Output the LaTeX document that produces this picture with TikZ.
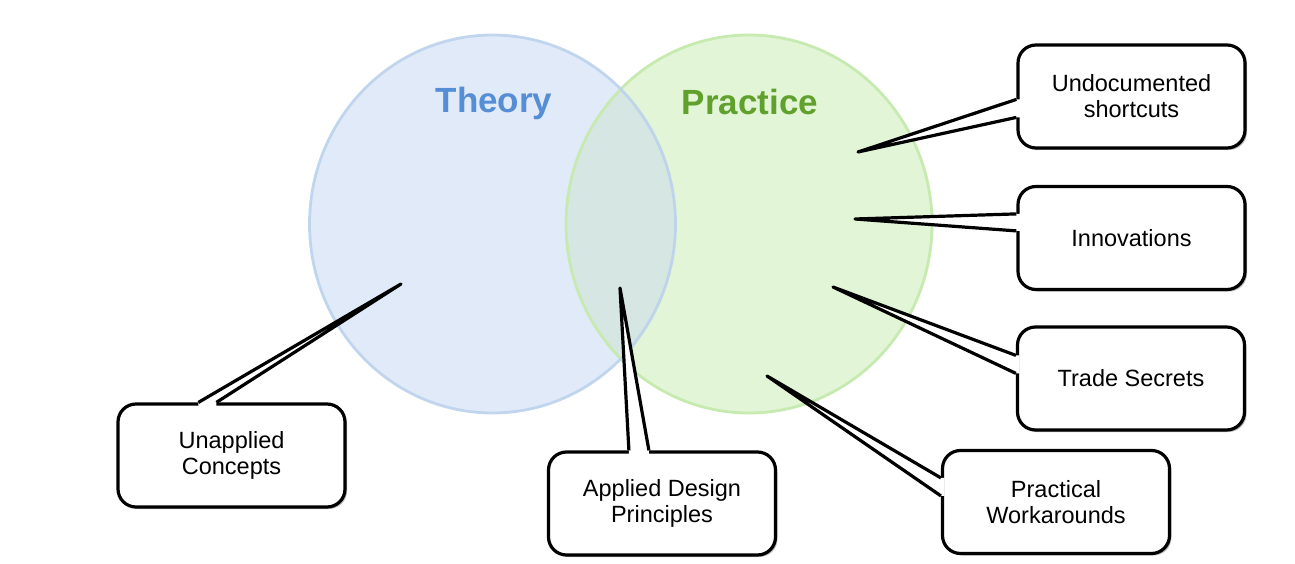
\documentclass[tikz,border=0pt]{standalone}
\usepackage{fontspec}
\setmainfont{Liberation Sans}
\usetikzlibrary{calc}
\definecolor{thfill}{HTML}{E1EAF8}
\definecolor{thline}{HTML}{BCD2EC}
\definecolor{prfill}{HTML}{E2F5D7}
\definecolor{prline}{HTML}{C6EAB0}
\definecolor{ovfill}{HTML}{D6E6E2}
\definecolor{thtext}{HTML}{558ED5}
\definecolor{prtext}{HTML}{5FA12C}
\begin{document}
\begin{tikzpicture}[x=1pt,y=-1pt,
  callbox/.style={draw=black, line width=3.2pt, fill=white, rounded corners=18pt,
    minimum width=227pt, minimum height=103pt, inner sep=0pt, align=center,
    font=\fontsize{23.5}{26}\selectfont},
  boxshadow/.style={fill=black!45, rounded corners=18pt, opacity=0.6},
  wedgeline/.style={draw=black, line width=3.2pt, line join=round},
  wedgefill/.style={fill=white, draw=none},
  title/.style={font=\fontsize{35}{40}\selectfont\bfseries, anchor=base}
]
\useasboundingbox (0,0) rectangle (1295,564);

% circles
\fill[thfill] (492.5,224) ellipse (183pt and 189pt);
\fill[prfill] (749,224) ellipse (183pt and 189pt);
\begin{scope}
  \clip (492.5,224) ellipse (183pt and 189pt);
  \fill[ovfill] (749,224) ellipse (183pt and 189pt);
\end{scope}
\draw[prline, line width=2.8pt] (749,224) ellipse (183pt and 189pt);
\draw[thline, line width=2.8pt, opacity=0.9] (492.5,224) ellipse (183pt and 189pt);

\node[title, text=thtext] (theory) at (494,113) {Theory};
\node[title, text=prtext] (practice) at (750,115) {Practice};

% tips
\coordinate (t1) at (401,284);
\coordinate (t2) at (620,288);
\coordinate (t3) at (858,152);
\coordinate (t4) at (855,219);
\coordinate (t5) at (833,287);
\coordinate (t6) at (767,376);

% shadows
\foreach \cx/\cy in {231.5/455.5, 662/503.5, 1131.5/96.5, 1131.5/238, 1131/378.5, 1056/502}{
  \fill[boxshadow] (\cx-113.5+2,\cy-51.5+2) rectangle (\cx+113.5+2,\cy+51.5+2);
}

% boxes
\node[callbox] (b1) at (231.5,455.5) {Unapplied\\Concepts};
\node[callbox] (b2) at (662,503.5) {Applied Design\\Principles};
\node[callbox] (b3) at (1131.5,96.5) {Undocumented\\shortcuts};
\node[callbox] (b4) at (1131.5,238) {Innovations};
\node[callbox] (b5) at (1131,378.5) {Trade Secrets};
\node[callbox] (b6) at (1056,502) {Practical\\Workarounds};

% wedges on top edges
\foreach \b/\t/\a/\c in {b1/t1/82/100, b2/t2/82/102}{
  \fill[wedgefill] ($(\b.north west)+(\a,0)$) -- (\t) -- ($(\b.north west)+(\c,0)$)
     -- ($(\b.north west)+(\c,3.5)$) -- ($(\b.north west)+(\a,3.5)$) -- cycle;
  \draw[wedgeline] ($(\b.north west)+(\a,0)$) -- (\t) -- ($(\b.north west)+(\c,0)$);
}
% wedges on left edges
\foreach \b/\t/\a/\c in {b3/t3/56/74, b4/t4/29/46, b5/t5/30/48, b6/t6/29/47}{
  \fill[wedgefill] ($(\b.north west)+(0,\a)$) -- (\t) -- ($(\b.north west)+(0,\c)$)
     -- ($(\b.north west)+(3.5,\c)$) -- ($(\b.north west)+(3.5,\a)$) -- cycle;
  \draw[wedgeline] ($(\b.north west)+(0,\a)$) -- (\t) -- ($(\b.north west)+(0,\c)$);
}
\end{tikzpicture}
\end{document}
